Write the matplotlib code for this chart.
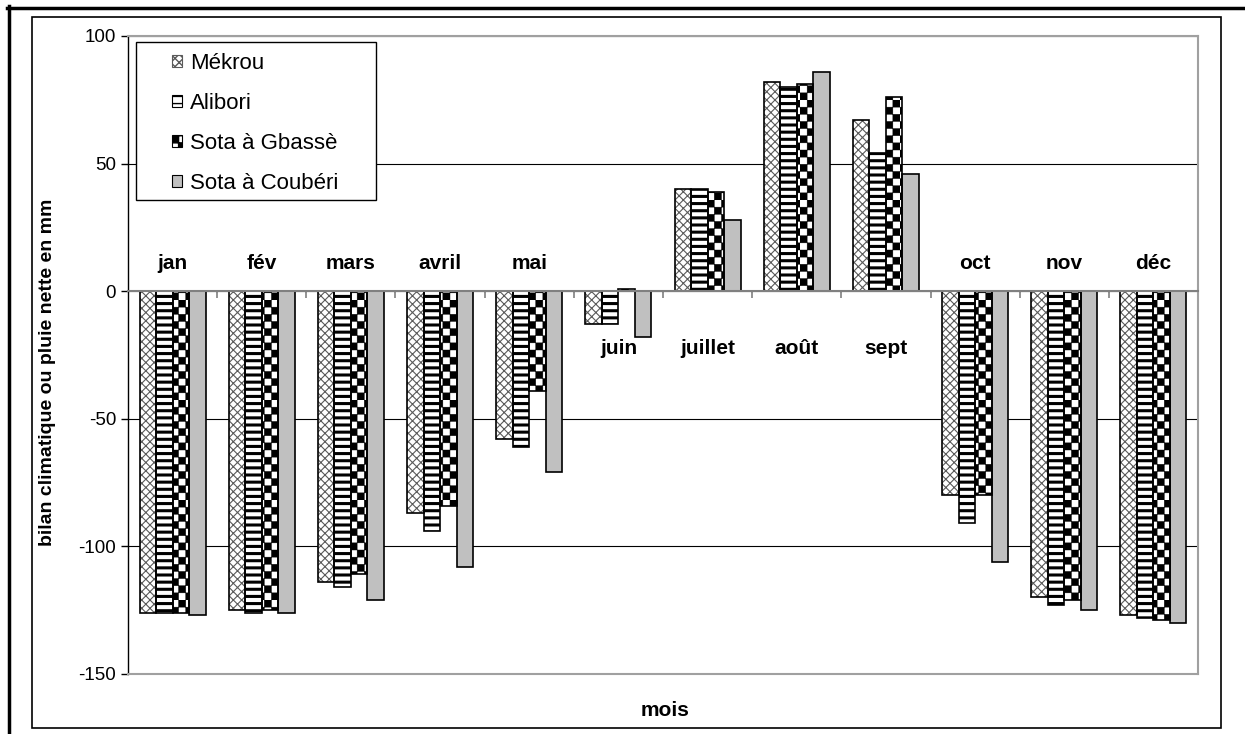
import numpy as np
import matplotlib
matplotlib.use('Agg')
import matplotlib.pyplot as plt
from matplotlib import hatch as mhatch
from matplotlib.path import Path
from matplotlib.patches import Patch, Rectangle
from matplotlib.lines import Line2D

# Data
months = ['jan', 'fév', 'mars', 'avril', 'mai', 'juin', 'juillet', 'août', 'sept', 'oct', 'nov', 'déc']
series_names = ['Mékrou', 'Alibori', 'Sota à Gbassè', 'Sota à Coubéri']
mekrou = [-126, -125, -114, -87, -58, -13, 40, 82, 67, -80, -120, -127]
alibori = [-126, -126, -116, -94, -61, -13, 40, 80, 54, -91, -123, -128]
gbasse = [-126, -125, -111, -84, -39, 1, 39, 81, 76, -80, -121, -129]
couberi = [-127, -126, -121, -108, -71, -18, 28, 86, 46, -106, -125, -130]


# checkerboard hatch, triggered by '*' (replaces the star hatch)
class Checker(mhatch.HatchPatternBase):
    filled = True

    def __init__(self, hatch, density):
        self.n = hatch.count('*') * 7
        self.num_vertices = (self.n * self.n // 2) * 5 if self.n else 0

    def set_vertices_and_codes(self, vertices, codes):
        s = 1.0 / self.n
        k = 0
        for i in range(self.n):
            for j in range(self.n):
                if (i + j) % 2:
                    continue
                x, y = i * s, j * s
                vertices[k:k + 5] = [[x, y], [x + s, y], [x + s, y + s], [x, y + s], [x, y]]
                codes[k:k + 5] = [Path.MOVETO, Path.LINETO, Path.LINETO, Path.LINETO, Path.CLOSEPOLY]
                k += 5

    get_vertices_and_codes = set_vertices_and_codes


# horizontal stripes with 7 lines per '-' instead of 6
class Stripes(mhatch.HorizontalHatch):
    def __init__(self, hatch, density):
        self.num_lines = int((hatch.count('-') + hatch.count('+')) * 7)
        self.num_vertices = self.num_lines * 2


mhatch._hatch_types = [Stripes if t is mhatch.HorizontalHatch else t
                       for t in mhatch._hatch_types if t is not mhatch.Stars] + [Checker]

plt.rcParams['font.family'] = ['Liberation Sans', 'DejaVu Sans']
plt.rcParams['axes.unicode_minus'] = False

# styles: (facecolor, hatch, hatch colour, hatch lw)
styles = [
    ('white', 'xxxx', '#5a5a5a', 0.8),
    ('white', '--', 'black', 2.2),
    ('white', '**', 'black', 0.3),
    ('#c0c0c0', None, '#c0c0c0', 1.0),
]
data = [mekrou, alibori, gbasse, couberi]


def set_hlw(patch, lw):
    if hasattr(patch, 'set_hatch_linewidth'):
        patch.set_hatch_linewidth(lw)
    else:
        plt.rcParams['hatch.linewidth'] = lw


fig = plt.figure(figsize=(12.45, 7.34), dpi=100, facecolor='white')
ax = fig.add_axes([128 / 1245, 1 - 674 / 734, 1070 / 1245, 638 / 734])

x = np.arange(len(months))
bw = 0.185
for k, (vals, (fc, hatch, hc, hlw)) in enumerate(zip(data, styles)):
    pos = x + (k - 1.5) * bw
    bars = ax.bar(pos, vals, bw, facecolor=fc, edgecolor=hc, linewidth=0, hatch=hatch, zorder=2)
    for b in bars:
        set_hlw(b, hlw)
    ax.bar(pos, vals, bw, fill=False, edgecolor='black', linewidth=1.2, zorder=3)

ax.set_xlim(-0.5, 11.5)
ax.set_ylim(-150, 100)
ax.set_yticks([-150, -100, -50, 0, 50, 100])
ax.yaxis.grid(True, color='black', linewidth=0.8)
ax.set_axisbelow(True)
ax.tick_params(axis='y', direction='out', length=5, width=1, color='black', labelsize=13.5, pad=3.5)

ax.spines['bottom'].set_position(('data', 0))
ax.spines['bottom'].set_color('#808080')
ax.spines['bottom'].set_linewidth(1.5)
ax.spines['bottom'].set_zorder(4)
for s in ['top', 'right']:
    ax.spines[s].set_color('#a0a0a0')
    ax.spines[s].set_linewidth(1.5)
ax.spines['left'].set_color('black')
ax.spines['left'].set_linewidth(1.0)
ax.axhline(-150, color='#a0a0a0', linewidth=1.5, clip_on=False, zorder=4)

ax.set_xticks(np.arange(0.5, 11, 1))
ax.tick_params(axis='x', direction='out', length=5, width=1.2, color='#808080', labelbottom=False)

# month labels: above zero for dry months, below for wet ones
for i, m in enumerate(months):
    wet = max(d[i] for d in data) > 0
    ax.text(i, -22.5 if wet else 11, m, ha='center', va='center', fontsize=15, fontweight='bold')

fig.text(48 / 1245, 1 - 372 / 734, 'bilan climatique ou pluie nette en mm', rotation=90,
         ha='center', va='center', fontsize=14, fontweight='bold')
fig.text(665 / 1245, 1 - 710 / 734, 'mois', ha='center', va='center', fontsize=15, fontweight='bold')

# legend with a fixed-size box
ax.add_patch(Rectangle((0.0075, 0.743), 0.2243, 0.2476, transform=ax.transAxes,
                       facecolor='white', edgecolor='black', linewidth=1.0, zorder=5))
handles = []
for (fc, hatch, hc, hlw) in styles:
    h = Patch(facecolor=fc, edgecolor=hc if hatch else 'black', hatch=hatch, linewidth=0.8)
    set_hlw(h, hlw)
    handles.append(h)
leg = ax.legend(handles, series_names, loc='upper left', bbox_to_anchor=(0.041, 0.973),
                frameon=False, fontsize=16, handlelength=0.46, handleheight=0.46,
                handletextpad=0.36, labelspacing=0.85, borderpad=0, borderaxespad=0)
leg.set_zorder(6)

# figure borders
fig.add_artist(Rectangle((32 / 1245, 1 - 728 / 734), 1189 / 1245, 711 / 734, transform=fig.transFigure,
                         fill=False, edgecolor='black', linewidth=1.2))
fig.add_artist(Line2D([8.5 / 1245, 8.5 / 1245], [0, 1 - 6 / 734], transform=fig.transFigure,
                      color='black', linewidth=2.5))
fig.add_artist(Line2D([7 / 1245, 1], [1 - 7.5 / 734, 1 - 7.5 / 734], transform=fig.transFigure,
                      color='black', linewidth=2.5))

fig.savefig('out.png', dpi=100, facecolor='white')
